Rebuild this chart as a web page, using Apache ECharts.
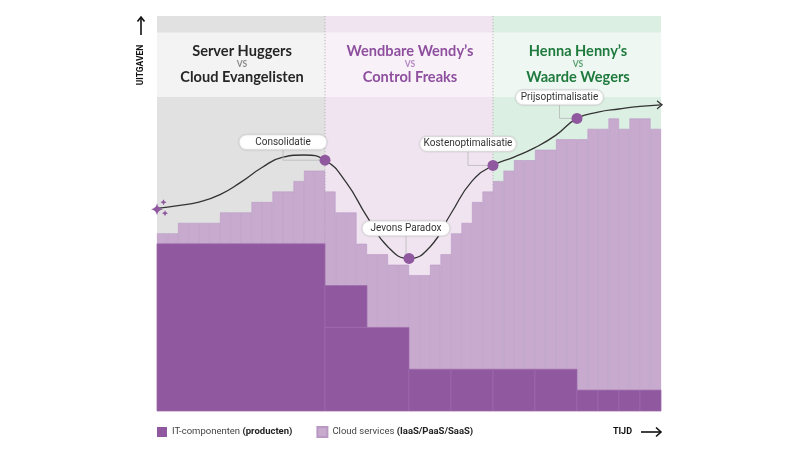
<!DOCTYPE html>
<html>
<head>
<meta charset="utf-8">
<script src="https://cdn.jsdelivr.net/npm/echarts@6/dist/echarts.min.js"></script>
<style>html,body{margin:0;padding:0;background:#fff;}#c{width:800px;height:450px;}</style>
</head>
<body>
<div id="c"></div>
<script>
// ---------- DATA ----------
const periods = Array.from({length: 48}, (_, i) => 'P' + (i + 1));
const cloudTotal = [17,17,18,18,18,18,19,19,19,20,20,21,21,22,23,23,
                    21,19,19,16,15,15,14,14,13,13,14,15,17,18,20,21,
                    22,23,24,24,25,25,26,26,26,27,27,28,27,28,28,27];
// IT blocks: [startPeriod, span, low, high]
const itBlocks = [[0,16,0,16],[16,4,8,12],[16,8,0,8],[24,4,0,4],[28,4,0,4],[32,4,0,4],[36,4,0,4],
                  [40,2,0,2],[42,2,0,2],[44,2,0,2],[46,2,0,2]];
const eras = [[0,16],[16,32],[32,48]];
const eraTitles = [['Server Huggers','Cloud Evangelisten'],['Wendbare Wendy\u2019s','Control Freaks'],['Henna Henny\u2019s','Waarde Wegers']];
const trendCurve = [[0,19.4],[2,19.65],[4,20.0],[6,20.7],[8,21.9],[10,23.3],[12,24.3],[14,24.5],[16,24.0],
                    [18,21.9],[20,18.6],[22,15.7],[24,14.6],[26,15.7],[28,18.9],[30,22.0],[32,23.5],
                    [34,24.3],[36,25.2],[38,26.4],[40,28.0],[42,28.6],[44,28.9],[46,29.15],[48,29.3]];
const milestoneNames = ['Consolidatie','Jevons Paradox','Kostenoptimalisatie','Prijsoptimalisatie'];
const milestonePoints = [[16,24.0],[24,14.6],[32,23.5],[40,28.0]];

// ---------- LAYOUT / STYLE ----------
const Y_MAX = 37.8;
const DARK = '#8f589f', LIGHT = '#c8aacf';
const eraFill = ['#e1e1e1','#f0e4f1','#dcefe3'];
const eraStrip = ['#f3f3f3','#f8f1f8','#eef7f1'];
const titleColor = ['#262626','#8e4f9e','#1e7a3d'];
const vsColor = ['#8a8a8a','#b487c1','#5a9f70'];
const labelOffsets = [[-42,-18],[-3,-30],[-25,-21.5],[-17.5,-21]];
const measure = document.createElement('canvas').getContext('2d');
measure.font = '10px Roboto';

const chart = echarts.init(document.getElementById('c'));
const star = 'path://M5,0 Q5.7,4.3 10,5 Q5.7,5.7 5,10 Q4.3,5.7 0,5 Q4.3,4.3 5,0 Z';

const titles = eras.map((e, i) => ({
  text: '{a|' + eraTitles[i][0] + '}\n{v|VS}\n{a|' + eraTitles[i][1] + '}',
  left: 157 + (e[0] + e[1]) / 2 * 10.5 - 4,
  top: 39,
  textAlign: 'center',
  textStyle: {
    rich: {
      a: {fontFamily: 'Lato', fontWeight: 'bold', fontSize: 14.6, lineHeight: 14.5, color: titleColor[i], align: 'center'},
      v: {fontFamily: 'Lato', fontSize: 8.5, lineHeight: 11.5, color: vsColor[i], align: 'center'}
    }
  }
}));

const option = {
  animation: false,
  title: titles,
  grid: {left: 157, right: 139, top: 16, bottom: 39},
  xAxis: [
    {type: 'category', data: periods, show: false, boundaryGap: true},
    {type: 'value', min: 0, max: 48, show: false}
  ],
  yAxis: {type: 'value', min: 0, max: Y_MAX, show: false},
  legend: {
    left: 152, top: 421, itemWidth: 10, itemHeight: 10, itemGap: 24,
    icon: 'rect',
    data: [{name: 'IT-componenten', itemStyle: {color: DARK}}, {name: 'Cloud services', itemStyle: {color: LIGHT}}],
    formatter: n => n === 'IT-componenten' ? '{n|IT-componenten }{b|(producten)}' : '{n|Cloud services }{b|(IaaS/PaaS/SaaS)}',
    textStyle: {
      rich: {
        n: {fontFamily: 'Roboto', fontSize: 9.5, color: '#444'},
        b: {fontFamily: 'Roboto', fontSize: 9.5, fontWeight: 'bold', color: '#222'}
      }
    }
  },
  graphic: [
    {type: 'line', shape: {x1: 141, y1: 35, x2: 141, y2: 17}, style: {stroke: '#111', lineWidth: 1.6}},
    {type: 'polyline', shape: {points: [[137.5, 21.5], [141, 17], [144.5, 21.5]]}, style: {stroke: '#111', lineWidth: 1.6, fill: null}},
    {type: 'text', x: 141, y: 65, rotation: Math.PI / 2, style: {text: 'UITGAVEN', fontFamily: 'Roboto', fontWeight: 'bold', fontSize: 8.5, fill: '#111', align: 'center', verticalAlign: 'middle'}},
    {type: 'text', x: 632, y: 432, style: {text: 'TIJD', fontFamily: 'Roboto', fontWeight: 'bold', fontSize: 9, fill: '#111', align: 'right', verticalAlign: 'middle'}},
    {type: 'line', shape: {x1: 641, y1: 432, x2: 661, y2: 432}, style: {stroke: '#111', lineWidth: 1.6}},
    {type: 'polyline', shape: {points: [[656, 427.5], [661, 432], [656, 436.5]]}, style: {stroke: '#111', lineWidth: 1.6, fill: null}}
  ],
  series: [
    {
      name: 'eras', type: 'custom', xAxisIndex: 1, z: 0, silent: true,
      data: eras,
      encode: {x: [0, 1]},
      renderItem: (params, api) => {
        const cs = params.coordSys;
        const x0 = api.coord([api.value(0), 0])[0];
        const x1 = api.coord([api.value(1), 0])[0];
        const i = params.dataIndex;
        const children = [
          {type: 'rect', shape: {x: x0, y: cs.y, width: x1 - x0, height: cs.height}, style: {fill: eraFill[i]}},
          {type: 'rect', shape: {x: x0, y: cs.y + 16.4, width: x1 - x0, height: 64.6}, style: {fill: eraStrip[i]}}
        ];
        if (i > 0) children.push({type: 'line', shape: {x1: x0, y1: cs.y, x2: x0, y2: cs.y + cs.height},
          style: {stroke: '#a9a9a9', lineWidth: 0.8, lineDash: [1.2, 1.8]}});
        return {type: 'group', children};
      }
    },
    {
      name: 'Cloud services', type: 'bar', xAxisIndex: 0, z: 2,
      data: cloudTotal, barCategoryGap: '0%', barGap: '0%',
      itemStyle: {color: LIGHT, borderColor: '#b999c4', borderWidth: 0.6}
    },
    {
      name: 'IT-componenten', type: 'custom', xAxisIndex: 1, z: 3,
      itemStyle: {color: DARK},
      data: itBlocks,
      encode: {x: 0, y: 3},
      renderItem: (params, api) => {
        const s = api.value(0), span = api.value(1);
        const p0 = api.coord([s, api.value(2)]);
        const p1 = api.coord([s + span, api.value(3)]);
        return {type: 'rect', shape: {x: p0[0], y: p1[1], width: p1[0] - p0[0], height: p0[1] - p1[1]},
          style: {fill: DARK, stroke: '#9d6bac', lineWidth: 0.7}};
      }
    },
    {
      name: 'trend', type: 'line', xAxisIndex: 1, z: 4, silent: true,
      data: trendCurve, smooth: 0.5, showSymbol: false,
      lineStyle: {color: '#333', width: 1.3}
    },
    {
      name: 'milestoneLabels', type: 'custom', xAxisIndex: 1, z: 5, silent: true,
      data: milestonePoints,
      encode: {x: 0, y: 1},
      renderItem: (params, api) => {
        const p = api.coord([api.value(0), api.value(1)]);
        const i = params.dataIndex;
        const name = milestoneNames[i];
        const lx = p[0] + labelOffsets[i][0], ly = p[1] + labelOffsets[i][1];
        const tw = measure.measureText(name).width;
        const w = Math.max(88, tw + 8), h = 15;
        return {type: 'group', children: [
          {type: 'polyline', shape: {points: [[lx, ly + h / 2], [lx, p[1]], [p[0], p[1]]]}, style: {stroke: '#b8b8b8', lineWidth: 0.8, fill: null}},
          {type: 'rect', shape: {x: lx - w / 2, y: ly - h / 2, width: w, height: h, r: h / 2},
            style: {fill: '#fff', stroke: '#d6d6d6', lineWidth: 0.8, shadowBlur: 2, shadowColor: 'rgba(0,0,0,0.12)'}},
          {type: 'text', x: lx, y: ly, style: {text: name, fontFamily: 'Roboto', fontSize: 10, fill: '#333', align: 'center', verticalAlign: 'middle'}}
        ]};
      }
    },
    {
      name: 'milestones', type: 'scatter', xAxisIndex: 1, z: 6, silent: true,
      data: milestonePoints, symbolSize: 11, itemStyle: {color: DARK, opacity: 1}
    },
    {
      name: 'spark', type: 'scatter', xAxisIndex: 1, z: 6, silent: true,
      symbol: star, itemStyle: {color: DARK, opacity: 1},
      data: [
        {value: trendCurve[0], symbolSize: 12, symbolOffset: [0, 1]},
        {value: trendCurve[0], symbolSize: 6, symbolOffset: [6.5, -6]},
        {value: trendCurve[0], symbolSize: 6, symbolOffset: [8, 5]}
      ]
    },
    {
      name: 'arrowEnd', type: 'scatter', xAxisIndex: 1, z: 6, silent: true,
      symbol: 'path://M0,0 L8,5 L0,10', symbolSize: [5, 8], symbolOffset: [-1.5, 0],
      itemStyle: {color: 'rgba(0,0,0,0)', borderColor: '#333', borderWidth: 1.2, opacity: 1},
      data: [trendCurve[trendCurve.length - 1]]
    }
  ]
};
chart.setOption(option);
</script>
</body>
</html>
